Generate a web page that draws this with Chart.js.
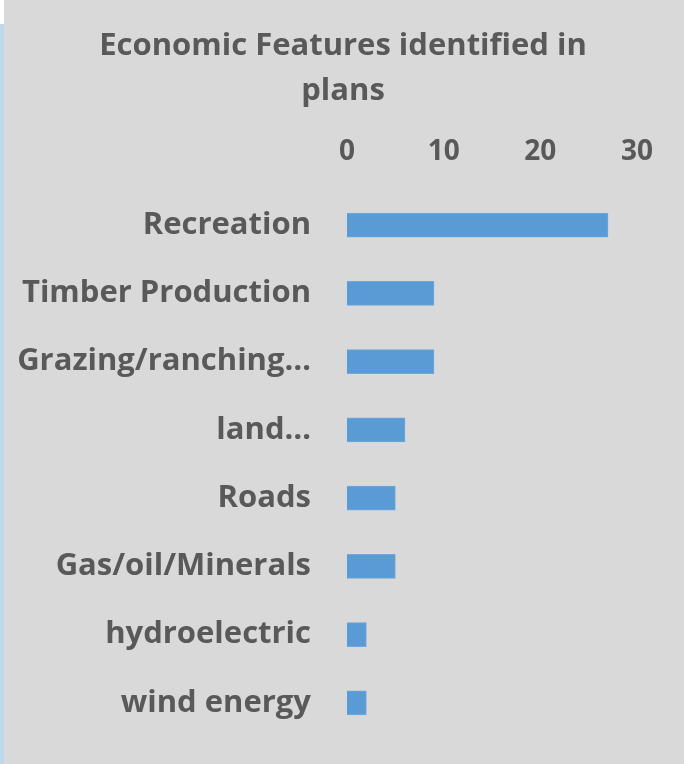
<!DOCTYPE html>
<html>
<head>
<meta charset="utf-8">
<script src="https://cdn.jsdelivr.net/npm/chart.js@4"></script>
<style>
html,body{margin:0;padding:0;background:#d9d9d9;overflow:hidden;}
#wrap{position:relative;width:684px;height:764px;}
canvas{display:block;}
</style>
</head>
<body>
<div id="wrap"><canvas id="c" width="684" height="764"></canvas></div>
<script>
const titleLines = ["Economic Features identified in", "plans"];
const categories = ["Recreation", "Timber Production", "Grazing/ranching…", "land…", "Roads", "Gas/oil/Minerals", "hydroelectric", "wind energy"];
const values = [27, 9, 9, 6, 5, 5, 2, 2];
const xTickValues = [0, 10, 20, 30];

const FONT = "'Open Sans', 'Liberation Sans', sans-serif";
const TEXT = "#595959";

const bgPlugin = {
  id: 'bg',
  beforeDraw(chart) {
    const ctx = chart.ctx;
    ctx.save();
    ctx.fillStyle = '#d9d9d9';
    ctx.fillRect(0, 0, chart.width, chart.height);
    ctx.fillStyle = '#bdd7ee';
    ctx.fillRect(0, 24, 4, chart.height - 24);
    ctx.fillStyle = '#ffffff';
    ctx.fillRect(0, 0, 4, 24);
    ctx.restore();
  },
  afterDraw(chart) {
    const ctx = chart.ctx;
    ctx.save();
    ctx.fillStyle = TEXT;
    ctx.font = "bold 31px " + FONT;
    ctx.textAlign = 'center';
    ctx.textBaseline = 'middle';
    titleLines.forEach((t, i) => ctx.fillText(t, 343, 46 + i * 45));
    ctx.restore();
  }
};

new Chart(document.getElementById('c'), {
  type: 'bar',
  data: {
    labels: categories,
    datasets: [{
      data: values,
      backgroundColor: '#5b9bd5',
      borderColor: '#6fa8dc',
      borderWidth: 1,
      barThickness: 24
    }]
  },
  options: {
    indexAxis: 'y',
    responsive: false,
    animation: false,
    layout: { padding: { left: 0, right: 47, top: 123, bottom: 27 } },
    plugins: { legend: { display: false }, title: { display: false }, tooltip: { enabled: false } },
    scales: {
      x: {
        position: 'top',
        min: 0, max: 30,
        afterBuildTicks(scale) { scale.ticks = xTickValues.map(v => ({ value: v })); },
        afterFit(scale) { scale.height = 68; scale.paddingLeft = 0; scale.paddingRight = 0; },
        grid: { display: false, drawTicks: false },
        border: { display: false },
        ticks: { color: TEXT, font: { family: FONT, size: 28, weight: 'bold' }, padding: 22, maxRotation: 0 }
      },
      y: {
        afterFit(scale) { scale.width = 347; scale.paddingTop = 0; scale.paddingBottom = 0; },
        grid: { display: false, drawTicks: false },
        border: { display: false },
        ticks: { color: TEXT, font: { family: FONT, size: 31, weight: 'bold' }, padding: 36, autoSkip: false }
      }
    }
  },
  plugins: [bgPlugin]
});
</script>
</body>
</html>
